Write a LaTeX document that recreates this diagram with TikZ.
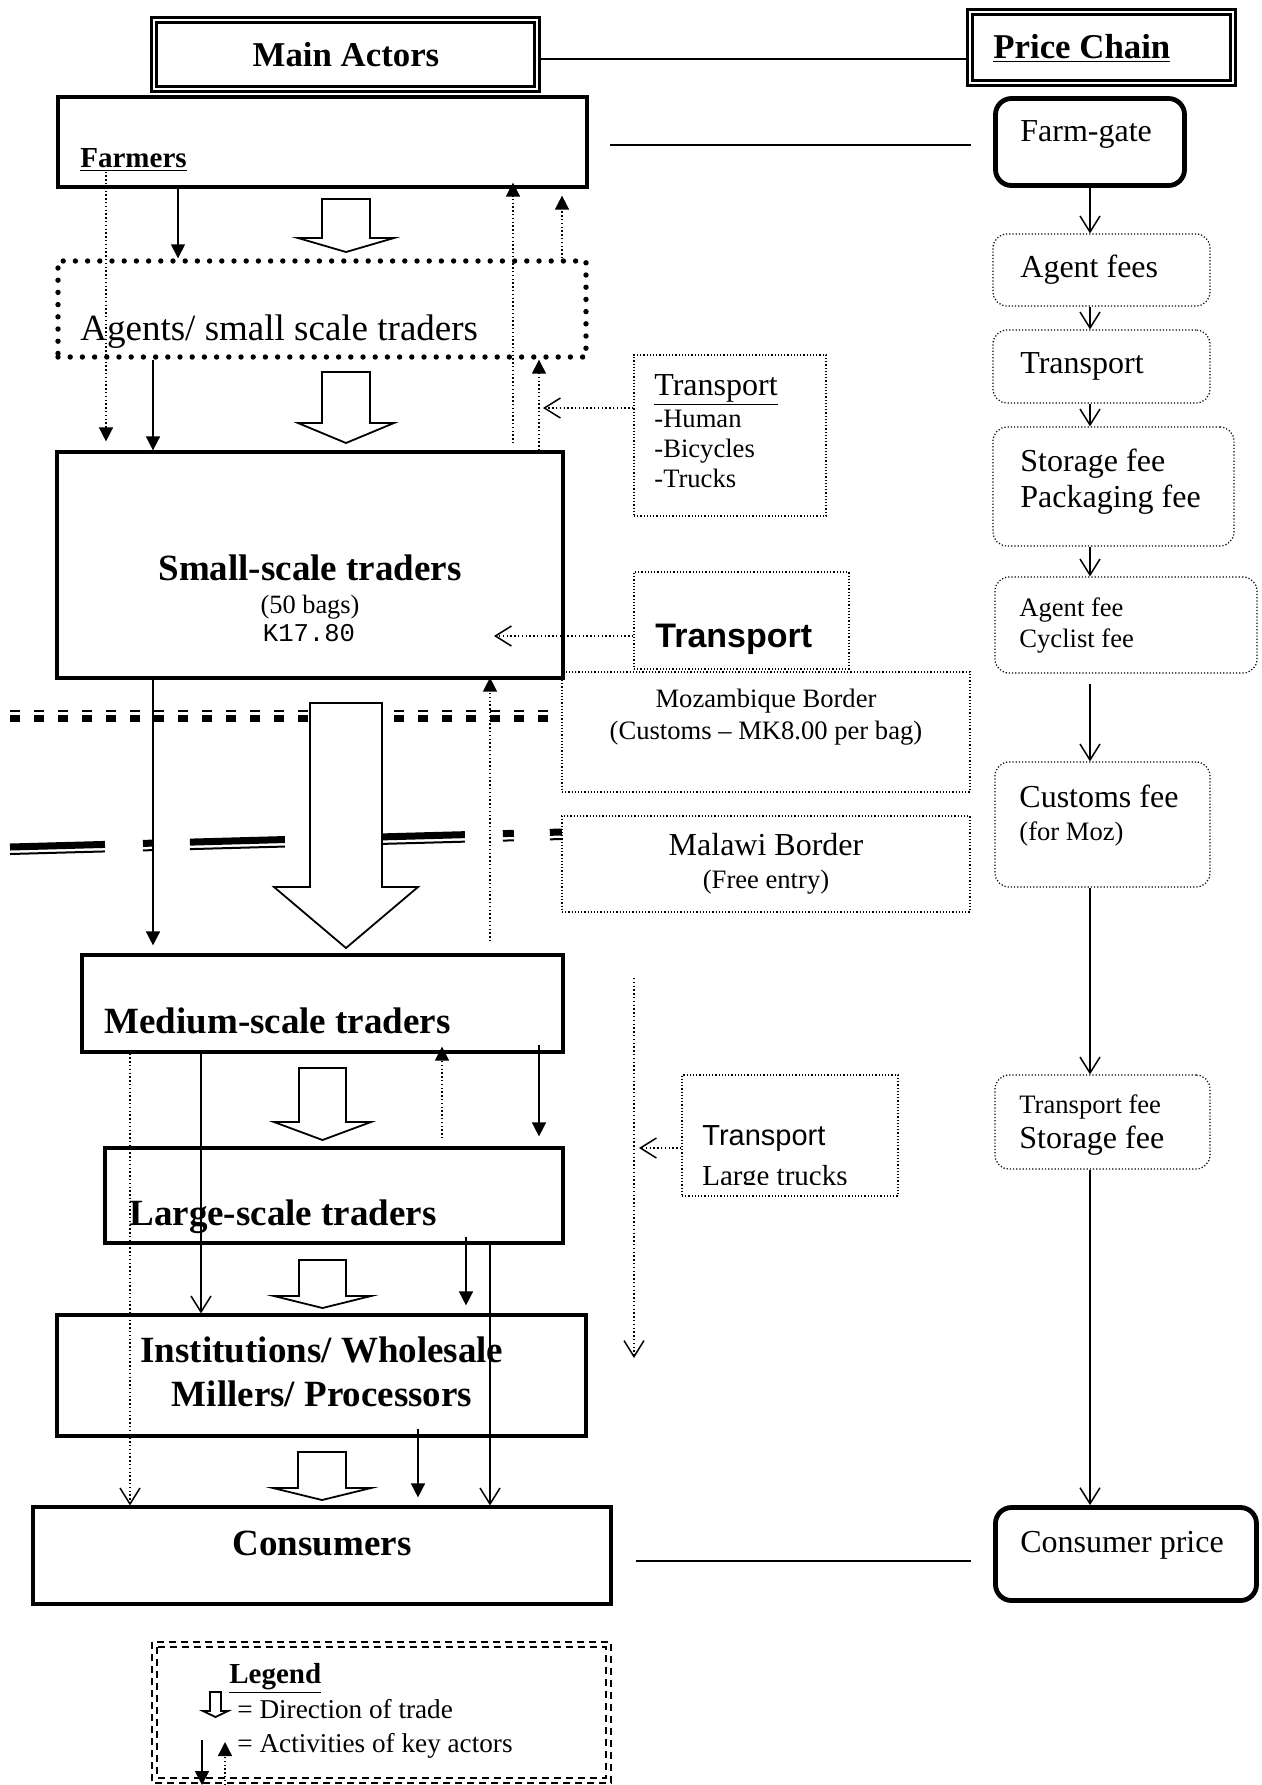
\documentclass[tikz,border=0pt]{standalone}
\usepackage{fontspec}
\setmainfont{Liberation Serif}
\setsansfont{Liberation Sans}
\setmonofont{Liberation Mono}
\usetikzlibrary{arrows.meta}

\begin{document}
\begin{tikzpicture}[x=0.5pt, y=-0.5pt,
    box/.style={draw, line width=1.6pt, inner sep=0pt},
    headbox/.style={draw, double, line width=1.2pt, double distance=1.4pt, inner sep=0pt},
    agentbox/.style={draw, line width=2.7pt, dash pattern=on 0pt off 6.1pt, line cap=round, inner sep=0pt},
    price/.style={draw, line width=2.4pt, rounded corners=8pt, inner sep=0pt},
    fee/.style={draw, line width=0.6pt, dash pattern=on 0.6pt off 1pt, rounded corners=7pt, inner sep=0pt},
    note/.style={draw, line width=0.6pt, dash pattern=on 0.6pt off 1pt, inner sep=0pt},
    lbl/.style={inner sep=0pt, anchor=base west},
    ctr/.style={inner sep=0pt, anchor=base},
    titlef/.style={font=\fontsize{17.4}{20}\selectfont\bfseries},
    bigb/.style={font=\fontsize{18.5}{22}\selectfont\bfseries},
    pricef/.style={font=\fontsize{16}{19}\selectfont},
    smallf/.style={font=\fontsize{13.3}{16}\selectfont},
    act/.style={line width=0.75pt, -{Triangle[length=7pt,width=7pt]}},
    actdot/.style={act, dash pattern=on 0.7pt off 1.2pt},
    flow/.style={line width=0.75pt, -{Straight Barb[length=8pt,width=10pt]}},
    flowdot/.style={flow, dash pattern=on 0.7pt off 1.2pt},
    link/.style={line width=0.9pt},
    trade/.style={draw, fill=white, line width=0.9pt, line join=miter},
    border/.style={dash pattern=on 5pt off 7pt},
    mwborder/.style={dash pattern=on 47.5pt off 19pt on 5.5pt off 18pt}]
\useasboundingbox (0,0) rectangle (1262,1785);

\draw[border, line width=3.5pt] (10,718) -- (549,718);
\draw[border, line width=1pt] (10,710.5) -- (549,710.5);
\draw[mwborder, line width=3.5pt] (10,847) -- (562,832);
\draw[mwborder, line width=1pt] (10,854) -- (562,839);

\node[headbox, minimum width=191.5pt, minimum height=34.5pt] (mainact) at (345.5,54.5) {};
\node[ctr, titlef] (mainactlbl) at (346,66) {Main Actors};
\node[headbox, minimum width=131.5pt, minimum height=35.5pt] (pricechain) at (1101.5,47.5) {};
\node[lbl, titlef] (pricechainlbl) at (993,58) {\underline{Price Chain}};

\node[box, minimum width=264.5pt, minimum height=45pt] (farmers) at (322.5,142) {};
\node[lbl, font=\fontsize{14.5}{17}\selectfont\bfseries] (farmerslbl) at (80,167) {\underline{Farmers}};
\node[agentbox, minimum width=264pt, minimum height=48pt] (agents) at (322,309) {};
\node[lbl, font=\fontsize{18.5}{22}\selectfont] (agentslbl) at (80,340) {Agents/ small scale traders};
\node[box, minimum width=253pt, minimum height=113pt] (smallsc) at (310,565) {};
\node[ctr, bigb] (smallsclbl) at (310,580) {Small-scale traders};
\node[ctr, font=\fontsize{13.2}{16}\selectfont] (bags) at (310,613) {(50 bags)};
\node[ctr, font=\fontsize{12.8}{15}\selectfont\ttfamily] (kwacha) at (309,641) {K17.80};
\node[box, minimum width=240.5pt, minimum height=48.5pt] (medsc) at (322.5,1003.5) {};
\node[lbl, bigb] (medsclbl) at (104,1033) {Medium-scale traders};
\node[box, minimum width=229pt, minimum height=47.5pt] (largesc) at (334,1195.5) {};
\node[lbl, bigb] (largesclbl) at (129,1225) {Large-scale traders};
\node[box, minimum width=264.5pt, minimum height=60.5pt] (instit) at (321.5,1375.5) {};
\node[ctr, bigb] (institlbl) at (322,1362) {Institutions/ Wholesale};
\node[ctr, bigb] (millerslbl) at (322,1406) {Millers/ Processors};
\node[box, minimum width=289pt, minimum height=48.5pt] (consum) at (322,1555.5) {};
\node[ctr, bigb] (consumlbl) at (322,1555) {Consumers};

\node[note, minimum width=96pt, minimum height=80.5pt] (trans1) at (730,435.5) {};
\node[lbl, pricef] (trans1lbl) at (654,395) {\underline{Transport}};
\node[lbl, smallf] (human) at (654,427) {-Human};
\node[lbl, smallf] (bicycles) at (654,457) {-Bicycles};
\node[lbl, smallf] (trucks) at (654,487) {-Trucks};
\node[note, minimum width=107.5pt, minimum height=48.5pt] (trans2) at (741.5,620.5) {};
\node[lbl, font=\fontsize{17}{20}\selectfont\sffamily\bfseries] (trans2lbl) at (655,647) {Transport};
\node[note, minimum width=204pt, minimum height=60pt] (mozb) at (766,732) {};
\node[ctr, smallf] (mozblbl) at (766,707) {Mozambique Border};
\node[ctr, smallf] (mozbfee) at (766,739) {(Customs -- MK8.00 per bag)};
\node[note, minimum width=204pt, minimum height=48pt] (malb) at (766,864) {};
\node[ctr, pricef] (malblbl) at (766,855) {Malawi Border};
\node[ctr, smallf] (malbfee) at (766,888) {(Free entry)};
\node[note, minimum width=108pt, minimum height=60.5pt] (trans3) at (790,1135.5) {};
\node[lbl, font=\fontsize{14.5}{17}\selectfont\sffamily] (trans3lbl) at (702,1145) {Transport};
\begin{scope}
\clip (682,1075) rectangle (898,1184.5);
\node[lbl, font=\fontsize{14.5}{17}\selectfont] (largetrucks) at (702,1185) {Large trucks};
\end{scope}

\node[price, minimum width=94.5pt, minimum height=43.5pt] (farmgate) at (1090,142) {};
\node[lbl, pricef] (farmgatelbl) at (1020,141) {Farm-gate};
\node[fee, minimum width=108.5pt, minimum height=36pt] (agentfees) at (1101.5,270) {};
\node[lbl, pricef] (agentfeeslbl) at (1020,277) {Agent fees};
\node[fee, minimum width=108.5pt, minimum height=36.5pt] (transpc) at (1101.5,366.5) {};
\node[lbl, pricef] (transpclbl) at (1020,373) {Transport};
\node[fee, minimum width=120.5pt, minimum height=59.5pt] (storage) at (1113.5,486.5) {};
\node[lbl, pricef] (storagelbl) at (1020,471) {Storage fee};
\node[lbl, pricef] (packaginglbl) at (1020,507) {Packaging fee};
\node[fee, minimum width=131pt, minimum height=48pt] (agentfee) at (1126,625) {};
\node[lbl, smallf] (agentfeelbl) at (1019,616) {Agent fee};
\node[lbl, smallf] (cyclistlbl) at (1019,647) {Cyclist fee};
\node[fee, minimum width=107.5pt, minimum height=62.5pt] (customs) at (1102.5,824.5) {};
\node[lbl, pricef] (customslbl) at (1019,807) {Customs fee};
\node[lbl, smallf] (forMoz) at (1019,840) {(for Moz)};
\node[fee, minimum width=107.5pt, minimum height=47pt] (transfee) at (1102.5,1122) {};
\node[lbl, smallf] (transfeelbl) at (1019,1113) {Transport fee};
\node[lbl, pricef] (storfeelbl) at (1019,1148) {Storage fee};
\node[price, minimum width=130.5pt, minimum height=46.5pt] (consprice) at (1126,1554) {};
\node[ctr, pricef] (conspricelbl) at (1122,1552) {Consumer price};

\foreach \cx/\ya/\yb/\yc/\sw/\hw in {346/199/238/252/24/48, 346/372/423/443/24/48,
    346/703/887/948/36/72, 322.5/1068/1122/1140/23.5/48.5, 322.5/1260/1296/1308/23.5/48.5,
    322/1452/1488/1500/24/49, 215.5/1692/1711/1717/5.5/12.5}
  \draw[trade] ({\cx-\sw},\ya) -- ({\cx+\sw},\ya) -- ({\cx+\sw},\yb) -- ({\cx+\hw},\yb)
    -- (\cx,\yc) -- ({\cx-\hw},\yb) -- ({\cx-\sw},\yb) -- cycle;

\draw[link] (mainact.east |- 0,59) -- (pricechain.west |- 0,59);
\draw[link, shorten <=10.5pt, shorten >=11pt] (farmers.east |- 0,145) -- (farmgate.west |- 0,145);
\draw[link, shorten <=11.5pt, shorten >=11pt] (consum.east |- 0,1561) -- (consprice.west |- 0,1561);

\foreach \a/\b in {farmgate/agentfees, agentfees/transpc, transpc/storage, storage/agentfee,
    customs/transfee, transfee/consprice}
  \draw[flow] (\a.south -| 1090,0) -- (\b.north -| 1090,0);
\draw[flow, shorten <=5pt] (agentfee.south -| 1090,0) -- (customs.north -| 1090,0);

\draw[act] (farmers.south -| 178,0) -- (agents.north -| 178,0);
\draw[actdot, shorten >=4.5pt] (farmerslbl.south -| 106,0) -- (smallsc.north -| 106,0);
\draw[act] (agents.south -| 153,0) -- (smallsc.north -| 153,0);
\draw[actdot, shorten <=3.5pt, shorten >=-3pt] (smallsc.north -| 513,0) -- (farmers.south -| 513,0);
\draw[actdot, shorten >=3.5pt] (agents.north -| 562,0) -- (farmers.south -| 562,0);
\draw[actdot] (smallsc.north -| 539,0) -- (agents.south -| 539,0);
\coordinate (t1end) at (543,408);
\draw[flowdot] (trans1.west |- t1end) -- (t1end);
\coordinate (t2end) at (494,636);
\draw[flowdot] (trans2.west |- t2end) -- (t2end);
\draw[act, shorten >=4pt] (smallsc.south -| 153,0) -- (medsc.north -| 153,0);
\draw[actdot, shorten <=6pt, shorten >=-1pt] (medsc.north -| 490,0) -- (smallsc.south -| 490,0);
\draw[flow] (medsc.south -| 201,0) -- (instit.north -| 201,0);
\draw[flowdot] (medsc.south -| 130,0) -- (consum.north -| 130,0);
\draw[actdot, shorten <=4pt, shorten >=-3.5pt] (largesc.north -| 442,0) -- (medsc.south -| 442,0);
\draw[act, shorten <=-4.5pt, shorten >=5pt] (medsc.south -| 539,0) -- (largesc.north -| 539,0);
\draw[act, shorten <=-4pt, shorten >=4pt] (largesc.south -| 466,0) -- (instit.north -| 466,0);
\draw[flow] (largesc.south -| 490,0) -- (consum.north -| 490,0);
\draw[act, shorten <=-4.5pt, shorten >=4pt] (instit.south -| 418,0) -- (consum.north -| 418,0);
\coordinate (t3top) at (634,978);
\coordinate (t3bot) at (634,1358);
\draw[flowdot] (t3top) -- (t3bot);
\draw[flowdot, shorten >=2.5pt] (trans3.west |- 0,1148) -- (t3top |- 0,1148);

\draw[line width=1pt, dash pattern=on 3.5pt off 2.5pt] (152,1642) rectangle (611,1783);
\draw[line width=1pt, dash pattern=on 3.5pt off 2.5pt] (157,1647) rectangle (606,1778);
\node[lbl, font=\fontsize{14.5}{17}\selectfont\bfseries] (legendlbl) at (229,1683) {\underline{Legend}};
\node[lbl, font=\fontsize{13.6}{16}\selectfont] (legtrade) at (237,1718) {= Direction of trade};
\node[lbl, font=\fontsize{13.6}{16}\selectfont] (legact) at (237,1752) {= Activities of key actors};
\draw[act] (202,1740) -- (202,1785);
\draw[actdot] (225,1785) -- (225,1742);
\end{tikzpicture}
\end{document}
